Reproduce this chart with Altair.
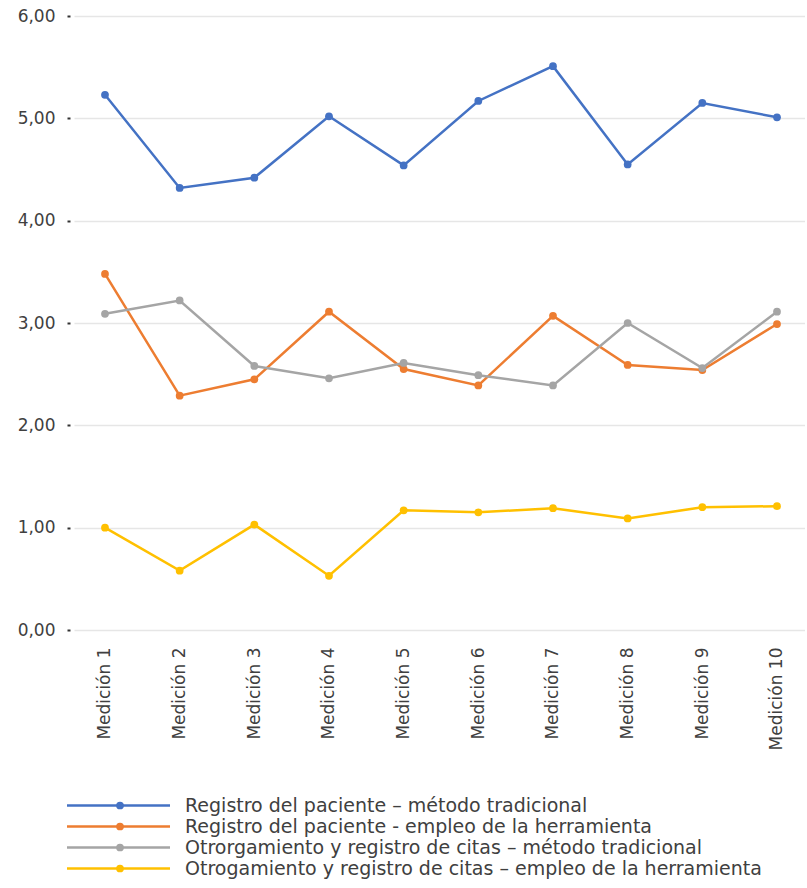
import altair as alt
import pandas as pd

categories = ["Medición 1", "Medición 2", "Medición 3", "Medición 4", "Medición 5",
              "Medición 6", "Medición 7", "Medición 8", "Medición 9", "Medición 10"]

series_names = [
    "Registro del paciente – método tradicional",
    "Registro del paciente - empleo de la herramienta",
    "Otrorgamiento y registro de citas – método tradicional",
    "Otrogamiento y registro de citas – empleo de la herramienta",
]

reg_tradicional = [5.23, 4.32, 4.42, 5.02, 4.54, 5.17, 5.51, 4.55, 5.15, 5.01]
reg_herramienta = [3.48, 2.29, 2.45, 3.11, 2.55, 2.39, 3.07, 2.59, 2.54, 2.99]
citas_tradicional = [3.09, 3.22, 2.58, 2.46, 2.61, 2.49, 2.39, 3.00, 2.56, 3.11]
citas_herramienta = [1.00, 0.58, 1.03, 0.53, 1.17, 1.15, 1.19, 1.09, 1.20, 1.21]

y_ticks = [0, 1, 2, 3, 4, 5, 6]
colors = ["#4472C4", "#ED7D31", "#A5A5A5", "#FFC000"]

all_values = [reg_tradicional, reg_herramienta, citas_tradicional, citas_herramienta]
rows = []
for s_idx, (name, vals) in enumerate(zip(series_names, all_values)):
    for c_idx, (c, v) in enumerate(zip(categories, vals)):
        rows.append({"serie": name, "orden": s_idx, "medicion": c, "pos": c_idx, "valor": v})
df = pd.DataFrame(rows)
legend_df = pd.DataFrame({"serie": series_names, "orden": list(range(len(series_names)))})

FONT = "DejaVu Sans"
TEXT_COLOR = "#404040"
FS = 17
LEG_FS = 19

color_scale = alt.Scale(domain=series_names, range=colors)

cat_array = "[" + ",".join("'" + c + "'" for c in categories) + "]"

x_enc = alt.X("pos:Q", title=None,
              scale=alt.Scale(domain=[-0.415, 9.375], nice=False, zero=False),
              axis=alt.Axis(values=list(range(len(categories))),
                            labelExpr=cat_array + "[datum.value]",
                            labelAngle=270, domain=False, ticks=False, grid=False,
                            labelPadding=17, labelFontSize=FS, labelColor=TEXT_COLOR,
                            labelFont=FONT, labelOverlap=False, labelFlush=False))
y_enc = alt.Y("valor:Q", title=None,
              scale=alt.Scale(domain=[0, 6], nice=False, zero=True),
              axis=alt.Axis(values=y_ticks, domain=False, offset=4, tickSize=3, tickWidth=2,
                            tickColor="#333333", labelPadding=12, labelFontSize=FS,
                            labelColor=TEXT_COLOR, labelFont=FONT,
                            gridColor="#E6E6E6", gridWidth=1.5,
                            labelExpr="replace(format(datum.value, '.2f'), '.', ',')"))

base = alt.Chart(df).encode(
    x=x_enc, y=y_enc,
    color=alt.Color("serie:N", scale=color_scale, legend=None),
    order=alt.Order("pos:Q"),
    detail="orden:N",
)
lines = base.mark_line(strokeWidth=2.5)
points = base.mark_point(filled=True, size=60, opacity=1)
main = alt.layer(lines, points).properties(width=731, height=614)

leg_y = alt.Y("serie:N", sort=series_names, axis=None,
              scale=alt.Scale(type="point", padding=0.5))
leg_base = alt.Chart(legend_df).encode(y=leg_y)
leg_rule = leg_base.mark_rule(strokeWidth=2.5).encode(
    x=alt.value(-7), x2=alt.value(96),
    color=alt.Color("serie:N", scale=color_scale, legend=None))
leg_pt = leg_base.mark_point(filled=True, size=60, opacity=1).encode(
    x=alt.value(46),
    color=alt.Color("serie:N", scale=color_scale, legend=None))
leg_txt = leg_base.mark_text(align="left", baseline="middle", fontSize=LEG_FS,
                             font=FONT, color=TEXT_COLOR).encode(
    x=alt.value(111), text="serie:N")
legend = alt.layer(leg_rule, leg_pt, leg_txt).properties(width=731, height=84)

chart = alt.vconcat(main, legend, spacing=165, bounds="flush").properties(
    padding={"left": 17, "top": 7, "right": 0, "bottom": 0},
    background="white",
).configure_view(stroke=None)

chart.save("out.html", embed_options={"renderer": "svg", "actions": False})
